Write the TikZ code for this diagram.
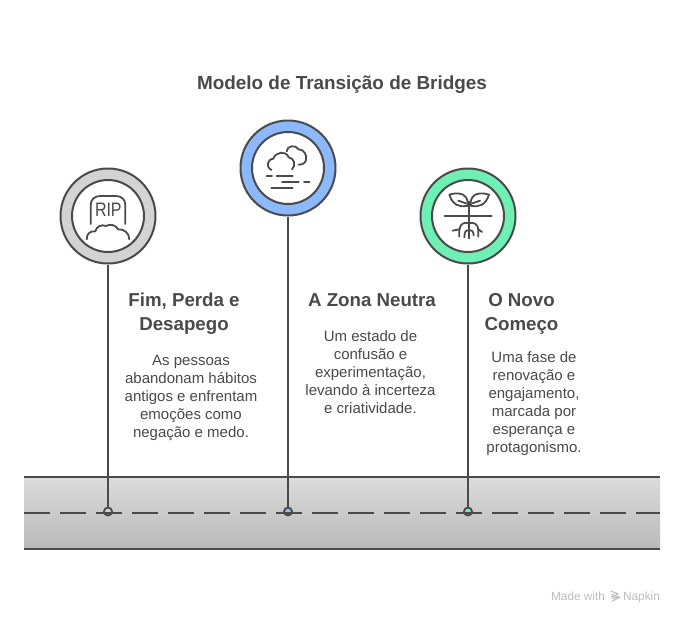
\documentclass[tikz,border=0pt]{standalone}
\usepackage{fontspec}
\setmainfont{Liberation Sans}
\definecolor{ink}{HTML}{4A4A4A}
\definecolor{ringgrey}{HTML}{D3D3D3}
\definecolor{ringblue}{HTML}{8CB9FD}
\definecolor{ringgreen}{HTML}{6EEFB4}
\definecolor{foot}{HTML}{BDBDBD}
\definecolor{roadtop}{HTML}{DCDCDC}
\definecolor{roadbottom}{HTML}{B8B8B8}
\tikzset{
  ring/.style={circle,draw=ink,line width=2pt,minimum size=95pt,inner sep=0pt},
  hole/.style={circle,draw=ink,fill=white,line width=2pt,minimum size=72pt,inner sep=0pt},
  stemline/.style={draw=ink,line width=2pt},
  roadline/.style={draw=ink,line width=2pt},
  dot/.style={circle,draw=ink,line width=1.8pt,minimum size=8pt,inner sep=0pt},
  icon/.style={draw=ink,line width=1.8pt,line cap=round,line join=round},
  titletext/.style={text=ink,font=\bfseries\fontsize{18.9}{24}\selectfont},
  headtext/.style={text=ink,align=center,font=\bfseries\fontsize{18.7}{24}\selectfont},
  bodytext/.style={text=ink,align=center,font=\fontsize{15}{18}\selectfont},
  foottext/.style={text=foot,anchor=base,font=\fontsize{11.8}{13}\selectfont},
}
\begin{document}
\begin{tikzpicture}[x=1pt,y=-1pt]
\fill[white] (0,0) rectangle (684,624);
\useasboundingbox (0,0) rectangle (684,624);

% road
\shade[top color=roadtop,bottom color=roadbottom] (24,477) rectangle (660,549);
\coordinate (tl) at (24,477); \coordinate (tr) at (660,477);
\coordinate (bl) at (24,549); \coordinate (br) at (660,549);
\coordinate (ml) at (24,513); \coordinate (mr) at (660,513);
\draw[roadline] (tl) -- (tr);
\draw[roadline] (bl) -- (br);

% rings
\node[ring,fill=ringgrey] (r1) at (108,216) {};
\node[hole] (h1) at (108,216) {};
\node[ring,fill=ringblue] (r2) at (288,168) {};
\node[hole] (h2) at (288,168) {};
\node[ring,fill=ringgreen] (r3) at (468,216) {};
\node[hole] (h3) at (468,216) {};

% dots and stems
\node[dot,fill=ringgrey] (d1) at (108,511.5) {};
\node[dot,fill=ringblue] (d2) at (288,511.5) {};
\node[dot,fill=ringgreen] (d3) at (468,511.5) {};
\draw[stemline] (r1.south) -- (d1.north);
\draw[stemline] (r2.south) -- (d2.north);
\draw[stemline] (r3.south) -- (d3.north);
\draw[roadline,dash pattern=on 25.7pt off 10.3pt] (ml) -- (mr);

% RIP icon
\begin{scope}[shift={(50,160)},x=0.3333pt,y=-0.3333pt]
\draw[icon] (122,192) -- (122,135) .. controls (122,118) and (135,108) .. (150,108) -- (198,108) .. controls (214,108) and (226,118) .. (226,135) -- (226,192);
\node[text=ink,xscale=0.82,font=\fontsize{19.5}{20}\selectfont] (rip) at (175,149) {RIP};
\draw[icon] (110,238) .. controls (110,222) and (120,212) .. (136,214)
  .. controls (138,200) and (155,192) .. (168,198)
  .. controls (180,190) and (200,196) .. (204,208)
  .. controls (222,206) and (238,220) .. (238,238);
\end{scope}

% cloud icon
\begin{scope}[shift={(230,112)},x=0.3333pt,y=-0.3333pt]
\draw[icon] (124,174) .. controls (108,168) and (110,142) .. (130,140)
  .. controls (136,120) and (168,114) .. (176,136)
  .. controls (194,138) and (198,162) .. (186,172);
\draw[icon] (170,118) .. controls (170,102) and (196,96) .. (206,112)
  .. controls (222,112) and (232,130) .. (228,144)
  .. controls (226,154) and (216,158) .. (206,158);
\draw[icon] (110,192) -- (126,192);
\draw[icon] (140,192) -- (188,192);
\draw[icon] (156,211) -- (206,211);
\draw[icon] (222,211) -- (238,211);
\draw[icon] (124,229) -- (188,229);
\end{scope}

% plant icon
\begin{scope}[shift={(410,160)},x=0.3333pt,y=-0.3333pt]
\draw[icon] (177,125) -- (177,235);
\draw[icon] (104,167) -- (245,167);
\draw[icon] (118,104) .. controls (135,98) and (160,98) .. (168,112) .. controls (174,122) and (174,130) .. (172,138) .. controls (150,142) and (128,136) .. (118,104) -- cycle;
\draw[icon] (237,104) .. controls (220,98) and (195,98) .. (187,112) .. controls (181,122) and (181,130) .. (183,138) .. controls (205,142) and (227,136) .. (237,104) -- cycle;
\draw[icon] (145,122) -- (168,130);
\draw[icon] (210,122) -- (187,130);
\draw[icon] (177,190) .. controls (165,185) and (150,190) .. (148,210) -- (148,230);
\draw[icon] (177,190) .. controls (190,185) and (205,192) .. (205,210) -- (205,230);
\draw[icon] (177,212) .. controls (168,208) and (163,216) .. (163,232);
\draw[icon] (177,212) .. controls (186,208) and (191,216) .. (191,226);
\draw[icon] (128,212) -- (148,208);
\draw[icon] (205,208) -- (216,216);
\end{scope}

% texts
\node[titletext] (title) at (342,84.5) {Modelo de Transição de Bridges};
\node[headtext] (h1t) at (184,314) {Fim, Perda e\\Desapego};
\node[headtext] (h2t) at (372,300.5) {A Zona Neutra};
\node[headtext] (h3t) at (521.5,314) {O Novo\\Começo};
\node[bodytext] (b1) at (191,398) {As pessoas\\abandonam hábitos\\antigos e enfrentam\\emoções como\\negação e medo.};
\node[bodytext] (b2) at (370.5,372.5) {Um estado de\\confusão e\\experimentação,\\levando à incerteza\\e criatividade.};
\node[bodytext] (b3) at (534,404) {Uma fase de\\renovação e\\engajamento,\\marcada por\\esperança e\\protagonismo.};

% footer
\node[foottext] (mw) at (578,600.5) {Made with};
\node[foottext] (nk) at (641.5,600.5) {Napkin};
\begin{scope}[line cap=round,line join=round]
\draw[foot,line width=1pt] (611,591) -- (618,594) -- (611,597) -- (620,597);
\draw[foot,line width=1pt] (620,597) -- (612,601.5);
\draw[foot,line width=1pt] (611,594) -- (618,597) -- (613,599);
\end{scope}
\end{tikzpicture}
\end{document}
